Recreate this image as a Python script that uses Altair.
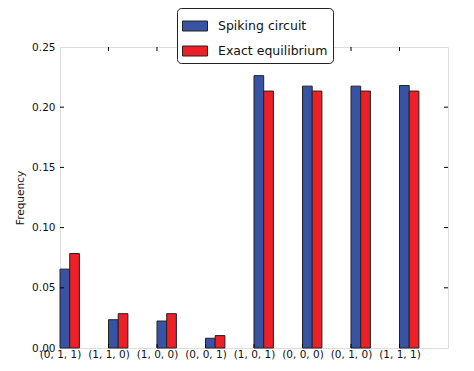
import altair as alt
import pandas as pd

categories = ["(0, 1, 1)", "(1, 1, 0)", "(1, 0, 0)", "(0, 0, 1)",
              "(1, 0, 1)", "(0, 0, 0)", "(0, 1, 0)", "(1, 1, 1)"]
spiking = [0.0655, 0.0235, 0.0224, 0.0081, 0.2262, 0.2175, 0.2175, 0.2180]
exact = [0.0785, 0.0285, 0.0285, 0.0103, 0.2134, 0.2134, 0.2134, 0.2134]
series_names = ["Spiking circuit", "Exact equilibrium"]
colors = ["#3953a4", "#ed1f27"]
y_ticks = [0.0, 0.05, 0.10, 0.15, 0.20, 0.25]

rows = []
for i, c in enumerate(categories):
    rows.append({"cat": c, "pos": i, "series": series_names[0], "value": spiking[i], "k": 0})
    rows.append({"cat": c, "pos": i, "series": series_names[1], "value": exact[i], "k": 1})
df = pd.DataFrame(rows)

W, H = 388, 301
FONT = "DejaVu Sans"

label_expr = "[" + ",".join("'" + c + "'" for c in categories) + "][datum.value]"

xscale = alt.Scale(domain=[0, len(categories)], nice=False, zero=False)
yscale = alt.Scale(domain=[0, 0.25], nice=False)

bars = alt.Chart(df).transform_calculate(
    x0="datum.pos + datum.k * 0.2",
    x1="datum.pos + datum.k * 0.2 + 0.2",
).mark_bar(stroke="#222222", strokeWidth=1).encode(
    x=alt.X("x0:Q", scale=xscale,
            axis=alt.Axis(values=list(range(len(categories))), labelExpr=label_expr,
                          ticks=False, domain=False, grid=False, title=None,
                          labelPadding=1, labelFontSize=10.5, labelFont=FONT,
                          labelColor="#111111", labelFlush=False)),
    x2="x1:Q",
    y=alt.Y("value:Q", scale=yscale,
            axis=alt.Axis(values=y_ticks, format=".2f", ticks=False, domain=False,
                          grid=False, title="Frequency", titleFontSize=10.5,
                          titleFont=FONT, titleFontWeight="normal", titleColor="#111111",
                          titlePadding=6, labelPadding=5, labelFontSize=10.5,
                          labelFont=FONT, labelColor="#111111")),
    y2=alt.datum(0),
    color=alt.Color("series:N", scale=alt.Scale(domain=series_names, range=colors),
                    legend=alt.Legend(
                        title=None, orient="none", legendX=117, legendY=-39,
                        symbolType="M-1,-0.4L1,-0.4L1,0.4L-1,0.4Z",
                        symbolSize=625, symbolStrokeColor="#222222",
                        symbolStrokeWidth=1, labelFontSize=12.5, labelFont=FONT,
                        labelColor="#111111", rowPadding=5, padding=5,
                        strokeColor="#222222", fillColor="white",
                        cornerRadius=4, labelOffset=10)),
)

xt = pd.DataFrame({"p": list(range(1, len(categories)))})
yt = pd.DataFrame({"v": y_ticks[1:-1]})

xb = alt.Chart(xt).mark_rule(color="black").encode(
    x=alt.X("p:Q", scale=xscale), y=alt.value(H), y2=alt.value(H - 4))
xtop = alt.Chart(xt).mark_rule(color="black").encode(
    x=alt.X("p:Q", scale=xscale), y=alt.value(0), y2=alt.value(4))
yl = alt.Chart(yt).mark_rule(color="black").encode(
    y=alt.Y("v:Q", scale=yscale), x=alt.value(0), x2=alt.value(4))
yr = alt.Chart(yt).mark_rule(color="black").encode(
    y=alt.Y("v:Q", scale=yscale), x=alt.value(W), x2=alt.value(W - 4))

chart = alt.layer(bars, xb, xtop, yl, yr).properties(
    width=W, height=H,
    autosize=alt.AutoSizeParams(type="none"),
    padding={"left": 60, "top": 47, "right": 26, "bottom": 23},
).configure_view(stroke="#222222", strokeWidth=1).configure(background="white")

chart.save("out.html", embed_options={"renderer": "svg", "actions": False})
